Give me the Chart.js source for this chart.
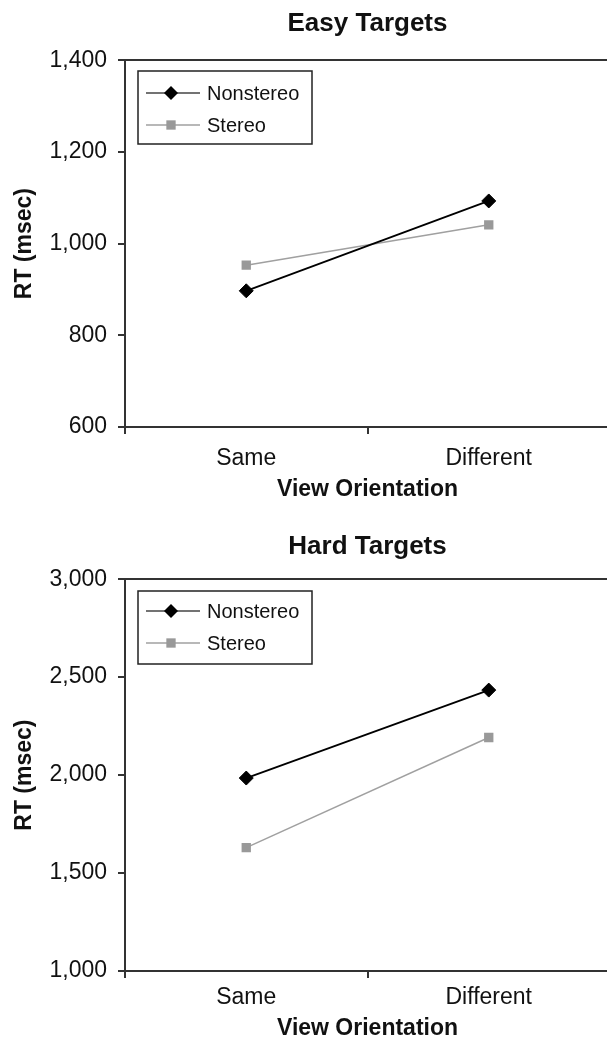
<!DOCTYPE html>
<html>
<head>
<meta charset="utf-8">
<script src="https://cdn.jsdelivr.net/npm/chart.js@4.4.0/dist/chart.umd.min.js"></script>
<style>
	html, body { margin: 0; padding: 0; background: #fff; overflow: hidden; }
	#easy { position: absolute; left: 0; top: 0; }
	#hard { position: absolute; left: 0; top: 520px; }
</style>
</head>
<body>
<canvas id="easy" width="618" height="520"></canvas>
<canvas id="hard" width="618" height="525"></canvas>
<script>

	// Data
	const categories = [ "Same", "Different" ];
	const seriesNames = [ "Nonstereo", "Stereo" ];
	const easyNonstereo = [ 897, 1093 ];
	const easyStereo = [ 953, 1041 ];
	const hardNonstereo = [ 1985, 2434 ];
	const hardStereo = [ 1630, 2192 ];
	const easyTicks = [ 600, 800, 1000, 1200, 1400 ];
	const hardTicks = [ 1000, 1500, 2000, 2500, 3000 ];

	const FONT = "'Liberation Sans', Arial, Helvetica, sans-serif";
	const AXIS = "#333";

	/*
	 |
	 | Boxed legend inside the top-left of the plot area
	 |
	 */
	const boxLegend = {
		id: "boxLegend",
		afterDatasetsDraw ( chart, args, opts ) {
			let ctx = chart.ctx
			let area = chart.chartArea
			let x0 = Math.round( area.left + 13 )
			let y0 = Math.round( area.top + opts.top )
			ctx.save()
			ctx.fillStyle = "#fff"
			ctx.fillRect( x0, y0, 174, 73 )
			ctx.lineWidth = 1.5
			ctx.strokeStyle = "#222"
			ctx.strokeRect( x0, y0, 174, 73 )
			chart.data.datasets.forEach( function ( ds, i ) {
				let y = y0 + opts.rows[ i ]
				ctx.strokeStyle = ds.legendLine
				ctx.lineWidth = 1.5
				ctx.beginPath()
				ctx.moveTo( x0 + 8, y )
				ctx.lineTo( x0 + 62, y )
				ctx.stroke()
				// marker
				let cx = x0 + 33
				let r = ds.pointRadius
				ctx.fillStyle = ds.pointBackgroundColor
				ctx.beginPath()
				if ( ds.pointStyle === "rectRot" ) {
					ctx.moveTo( cx - r, y )
					ctx.lineTo( cx, y - r )
					ctx.lineTo( cx + r, y )
					ctx.lineTo( cx, y + r )
					ctx.closePath()
				}
				else {
					let s = Math.SQRT1_2 * r
					ctx.rect( cx - s, y - s, 2 * s, 2 * s )
				}
				ctx.fill()
				// label
				ctx.fillStyle = "#111"
				ctx.font = "20px " + FONT
				ctx.textBaseline = "middle"
				ctx.textAlign = "left"
				ctx.fillText( ds.label, x0 + 69, y + 1 )
			} )
			ctx.restore()
		}
	}

	function makeChart ( id, titleText, nonstereo, stereo, ticks, geom ) {
		let yMin = ticks[ 0 ]
		let yMax = ticks[ ticks.length - 1 ]
		let chartData = {
			labels: categories,
			datasets: [ {
				label: seriesNames[ 0 ],
				data: nonstereo,
				borderColor: "#000",
				borderWidth: 1.8,
				pointStyle: "rectRot",
				pointRadius: 7,
				pointBorderWidth: 1,
				pointBackgroundColor: "#000",
				pointBorderColor: "#000",
				legendLine: "#444",
				tension: 0
			}, {
				label: seriesNames[ 1 ],
				data: stereo,
				borderColor: "#a0a0a0",
				borderWidth: 1.5,
				pointStyle: "rect",
				pointRadius: 6.6,
				pointBorderWidth: 0,
				pointBackgroundColor: "#999",
				pointBorderColor: "#999",
				legendLine: "#a0a0a0",
				tension: 0
			} ]
		}

		let chartScales = {
			x: {
				type: "category",
				offset: true,
				afterFit: function ( scale ) { scale.height = geom.xHeight },
				grid: {
					offset: true,
					drawOnChartArea: false,
					tickLength: 7,
					tickColor: AXIS,
					lineWidth: 2
				},
				border: { display: true, color: AXIS, width: 2 },
				ticks: {
					color: "#111",
					padding: geom.xTickPad,
					font: { family: FONT, size: 23 }
				},
				title: {
					display: true,
					text: "View Orientation",
					color: "#111",
					font: { family: FONT, size: 23, weight: "bold" },
					padding: { top: 0, bottom: geom.xTitlePad }
				}
			},
			y: {
				type: "linear",
				min: yMin,
				max: yMax,
				afterFit: function ( scale ) { scale.width = 125 },
				grid: {
					drawOnChartArea: true,
					tickLength: 7,
					lineWidth: 2,
					tickColor: AXIS,
					color: function ( c ) {
						return c.tick && c.tick.value === yMax ? AXIS : "rgba(0,0,0,0)"
					}
				},
				border: { display: true, color: AXIS, width: 2 },
				ticks: {
					stepSize: ticks[ 1 ] - ticks[ 0 ],
					color: "#111",
					padding: 11,
					font: { family: FONT, size: 23 },
					callback: function ( value ) {
						return value.toLocaleString( "en-US" )
					}
				},
				title: {
					display: true,
					text: "RT (msec)",
					color: "#111",
					font: { family: FONT, size: 23, weight: "bold" },
					padding: { top: 11, bottom: 0 }
				}
			}
		}

		return new Chart( document.getElementById( id ), {
			type: "line",
			data: chartData,
			plugins: [ boxLegend ],
			options: {
				responsive: false,
				animation: false,
				layout: { padding: { left: 0, right: 1, top: 0, bottom: 0 } },
				scales: chartScales,
				plugins: {
					legend: { display: false },
					tooltip: { enabled: false },
					title: {
						display: true,
						text: titleText,
						fullSize: false,
						color: "#111",
						font: { family: FONT, size: 26, weight: "bold" },
						padding: { top: geom.titleTop, bottom: geom.titleBottom }
					},
					boxLegend: { top: geom.legendTop, rows: geom.legendRows }
				}
			}
		} )
	}

	makeChart( "easy", "Easy Targets", easyNonstereo, easyStereo, easyTicks, {
		titleTop: 8, titleBottom: 21, xHeight: 93, xTitlePad: 17, xTickPad: 11,
		legendTop: 11, legendRows: [ 22, 54 ]
	} )

	makeChart( "hard", "Hard Targets", hardNonstereo, hardStereo, hardTicks, {
		titleTop: 11, titleBottom: 17, xHeight: 74, xTitlePad: 3, xTickPad: 6,
		legendTop: 12, legendRows: [ 20, 52 ]
	} )

</script>
</body>
</html>
